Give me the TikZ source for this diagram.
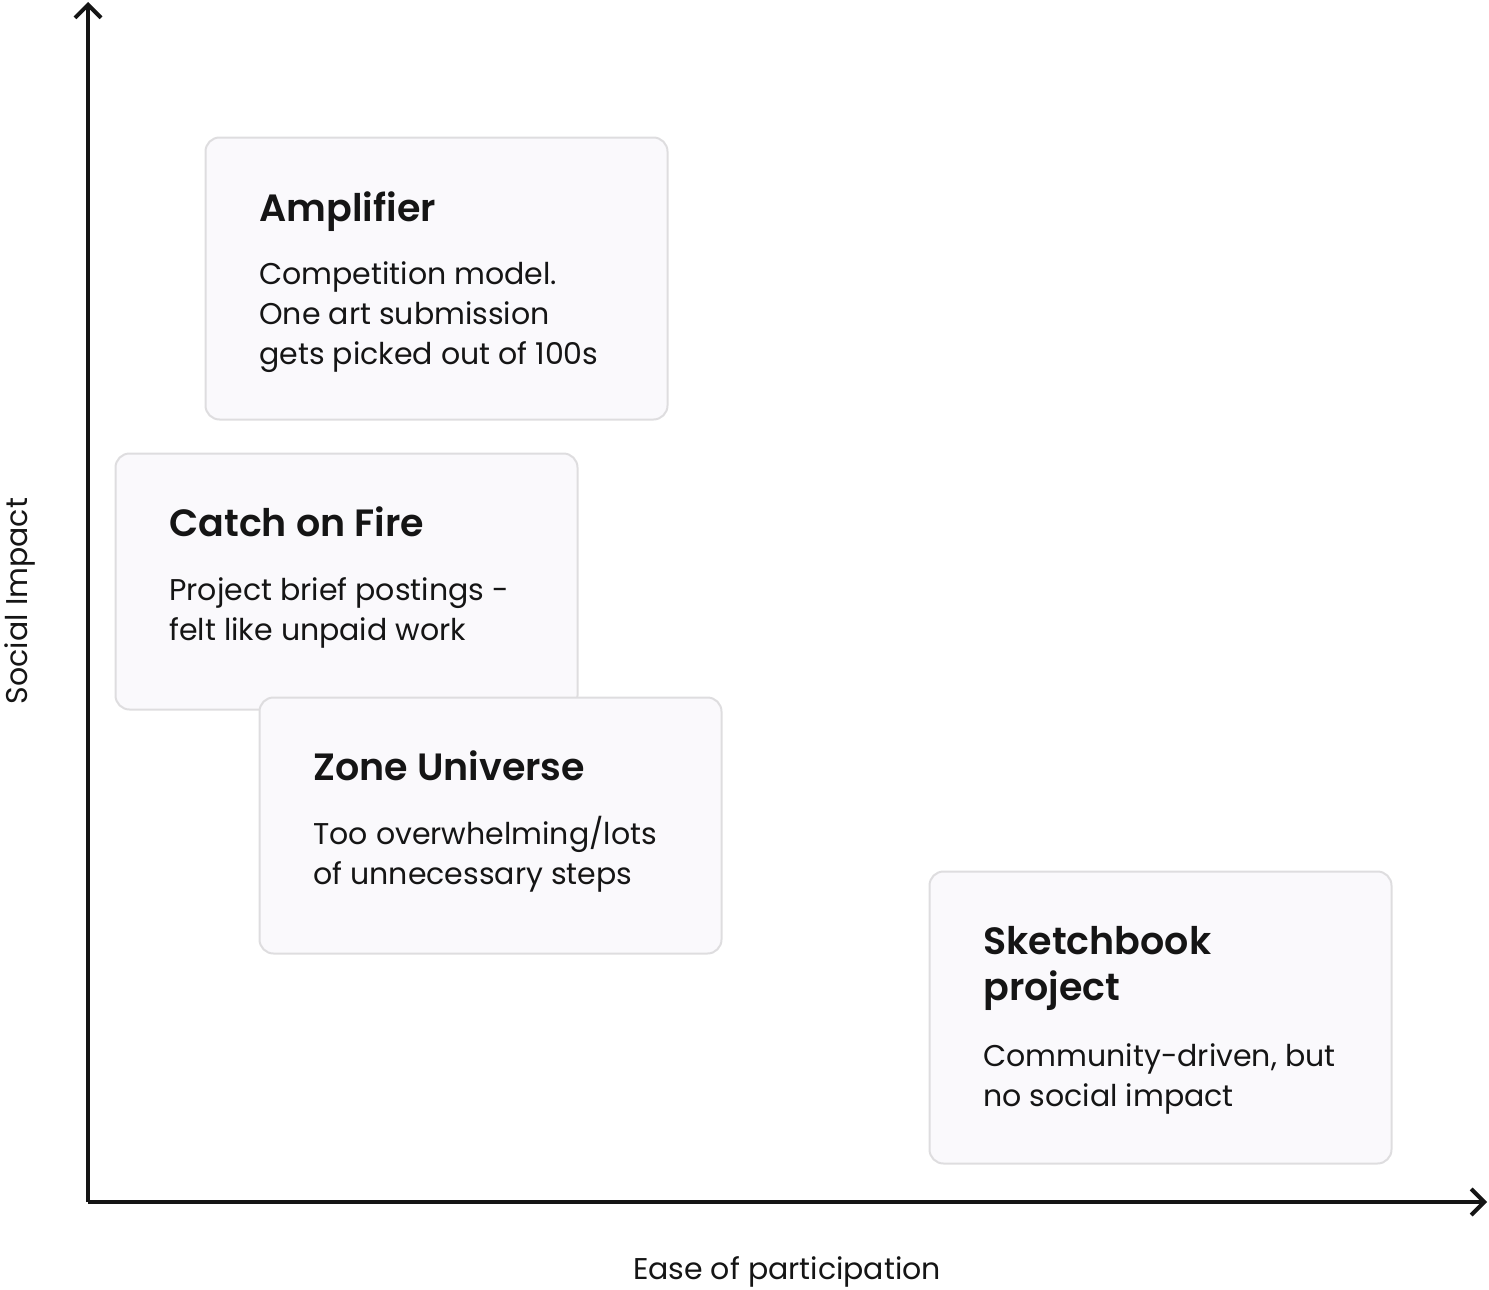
\documentclass[tikz,border=0pt]{standalone}
\usepackage{fontspec}
\setmainfont{Poppins}[BoldFont={Poppins SemiBold}]
\usetikzlibrary{arrows.meta}
\definecolor{boxfill}{HTML}{FAF9FC}
\definecolor{boxline}{HTML}{DEDDDF}
\definecolor{ink}{HTML}{151515}
\tikzset{
  card/.style={draw=boxline, fill=boxfill, line width=1pt, rounded corners=7pt, inner sep=0pt, anchor=north west},
  ttl/.style={anchor=base west, inner sep=0pt, font=\fontsize{19}{23}\selectfont\bfseries, text=ink},
  body/.style={anchor=base west, inner sep=0pt, font=\fontsize{15}{20}\selectfont, text=ink},
  axis/.style={line width=2pt, ink, -{Straight Barb[length=6.5pt, width=13pt, line width=2pt]}},
  axlabel/.style={inner sep=0pt, font=\fontsize{15}{20}\selectfont, text=ink}
}
\begin{document}
\begin{tikzpicture}[x=0.5pt, y=-0.5pt]
\useasboundingbox (0,0) rectangle (1489,1290);
% origin
\coordinate (O) at (88,1202);
\coordinate (ytop) at (88,2);
\coordinate (xend) at (1487,1202);
\draw[axis] (O) -- (ytop);
\draw[axis] (O) -- (xend);
% cards
\node[card, minimum width=231pt, minimum height=141pt] (amp) at (204.5,136.5) {};
\node[ttl] (ampT) at (259,221) {Amplifier};
\node[body] (ampB1) at (259,284) {Competition model.};
\node[body] (ampB2) at (259,324) {One art submission};
\node[body] (ampB3) at (259,364) {gets picked out of 100s};

\node[card, minimum width=231pt, minimum height=128pt] (cof) at (114.5,452.5) {};
\node[ttl] (cofT) at (169,536) {Catch on Fire};
\node[body] (cofB1) at (169,600) {Project brief postings -};
\node[body] (cofB2) at (169,640) {felt like unpaid work};

\node[card, minimum width=231pt, minimum height=128pt] (zone) at (258.5,696.5) {};
\node[ttl] (zoneT) at (313,780) {Zone Universe};
\node[body] (zoneB1) at (313,844) {Too overwhelming/lots};
\node[body] (zoneB2) at (313,884) {of unnecessary steps};

\node[card, minimum width=231pt, minimum height=146pt] (sk) at (928.5,870.5) {};
\node[ttl] (skT1) at (983,954) {Sketchbook};
\node[ttl] (skT2) at (983,1000) {project};
\node[body] (skB1) at (983,1066) {Community-driven, but};
\node[body] (skB2) at (983,1106) {no social impact};

% axis labels
\node[axlabel, rotate=90] (ylab) at (20,601) {Social Impact};
\node[axlabel, anchor=base] (xlab) at (787,1279) {Ease of participation};
\end{tikzpicture}
\end{document}
